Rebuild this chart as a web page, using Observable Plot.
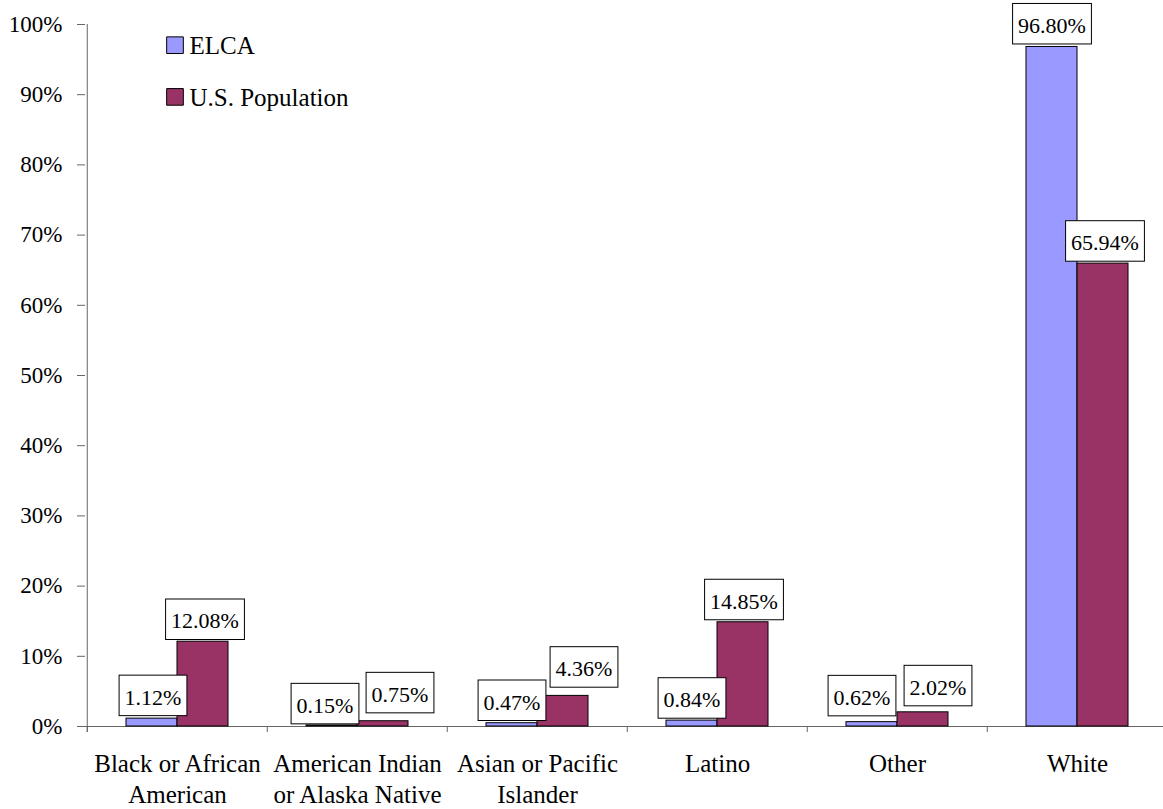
<!DOCTYPE html>
<html>
<head>
<meta charset="utf-8">
<script src="https://cdn.jsdelivr.net/npm/d3@7"></script>
<script src="https://cdn.jsdelivr.net/npm/@observablehq/plot@0.6"></script>
<style>
  body { margin: 0; background: #fff; }
  #chart svg { display: block; font-family: "Liberation Serif", "Times New Roman", serif !important; }
  #chart svg text { font-family: "Liberation Serif", "Times New Roman", serif !important; fill: black; }
  #chart g[aria-label="y-axis tick"] { color: #666; }
</style>
</head>
<body>
<div id="chart"></div>
<script>
// Racial / ethnic make-up: ELCA membership vs. U.S. population (percent)
const categories = [
  "Black or African\nAmerican",
  "American Indian\nor Alaska Native",
  "Asian or Pacific\nIslander",
  "Latino",
  "Other",
  "White"
];
const seriesNames = ["ELCA", "U.S. Population"];
const elcaValues = [1.12, 0.15, 0.47, 0.84, 0.62, 96.80];
const usValues = [12.08, 0.75, 4.36, 14.85, 2.02, 65.94];
const seriesColors = ["#9999ff", "#993366"];

// Nudges [dx, gap above bar] in px so neighbouring value boxes don't collide
const elcaLabelNudge = [[1, 3], [-7, 1.6], [0, 2.7], [0, 2.4], [-10, 6.3], [0, 3]];
const usLabelNudge = [[2, 2.2], [17, 8.4], [21, 8.7], [1, 2.5], [15, 6.5], [2, 2.4]];

const W = 1163, H = 809;
const left = 85, right = 1168;          // category band range (last band runs off the edge)
const step = (right - left) / categories.length;
const groupWidth = 102;                  // both bars of a category
const pad = 1 - groupWidth / step;
const half = groupWidth / 2;

const rows = categories.flatMap((c, i) => [
  {category: c, series: seriesNames[0], value: elcaValues[i], nudge: elcaLabelNudge[i], side: -1},
  {category: c, series: seriesNames[1], value: usValues[i], nudge: usLabelNudge[i], side: 1}
]);

const axisGray = "#666";
const formatValue = v => v.toFixed(2) + "%";

const valueLabels = rows.map(d => Plot.text([d], {
  x: "category",
  y: "value",
  text: r => formatValue(r.value),
  dx: d.side * half / 2 + d.nudge[0],
  dy: -(d.nudge[1] + 11),
  lineAnchor: "bottom",
  fontSize: 22,
  fill: "black"
}));

const legendMarks = seriesNames.flatMap((name, k) => [
  Plot.dot([name], {
    frameAnchor: "top-left",
    dx: 89.5, dy: 20.7 + k * 51.7,
    symbol: "square", r: 9.4,
    fill: seriesColors[k], stroke: "black", strokeWidth: 1
  }),
  Plot.text([name], {
    frameAnchor: "top-left",
    text: t => t,
    dx: 104, dy: 29.5 + k * 51.7,
    textAnchor: "start", lineAnchor: "bottom",
    fontSize: 25, fill: "black"
  })
]);

const chart = Plot.plot({
  width: W,
  height: H,
  marginTop: 24,
  marginBottom: 83,
  marginLeft: left,
  marginRight: 0,
  style: {fontSize: "23px", color: "black", background: "white", overflow: "visible"},
  x: {domain: categories, range: [left, right], paddingInner: pad, paddingOuter: pad / 2, axis: null},
  y: {domain: [0, 100], ticks: 10, tickSize: 8, tickPadding: 15, tickFormat: d => d + "%", label: null},
  marks: [
    // baseline and category dividers
    Plot.ruleY([0], {stroke: axisGray}),
    Plot.ruleX(categories, {x: d => d, dx: -step / 2, y1: 0, y2: 0, insetBottom: -6, stroke: axisGray}),
    // value axis line
    Plot.ruleX([categories[0]], {x: d => d, dx: -step / 2, y1: 100, y2: 0, insetBottom: -6, stroke: axisGray}),
    Plot.barY(rows.filter(d => d.series === seriesNames[0]), {
      x: "category", y: "value", insetRight: half,
      fill: seriesColors[0], stroke: "black", strokeWidth: 1
    }),
    Plot.barY(rows.filter(d => d.series === seriesNames[1]), {
      x: "category", y: "value", insetLeft: half,
      fill: seriesColors[1], stroke: "black", strokeWidth: 1
    }),
    ...valueLabels,
    Plot.text(categories, {
      x: d => d, frameAnchor: "bottom", lineAnchor: "top",
      dy: 23.7, lineHeight: 1.24, fontSize: 25, fill: "black"
    }),
    ...legendMarks
  ]
});

document.getElementById("chart").append(chart);

// Frame each value label with a white, black-edged box
const labelTexts = new Set(rows.map(d => formatValue(d.value)));
d3.select(chart).selectAll("text")
  .filter(function () { return labelTexts.has(this.textContent); })
  .each(function () {
    const b = this.getBBox();
    const box = document.createElementNS("http://www.w3.org/2000/svg", "rect");
    this.parentNode.insertBefore(box, this);
    d3.select(box)
      .attr("x", b.x - 5.5)
      .attr("y", b.y - 9.5)
      .attr("width", b.width + 11)
      .attr("height", b.height + 15.5)
      .attr("transform", this.getAttribute("transform"))
      .attr("fill", "white")
      .attr("stroke", "black")
      .attr("stroke-width", 1);
  });
</script>
</body>
</html>
